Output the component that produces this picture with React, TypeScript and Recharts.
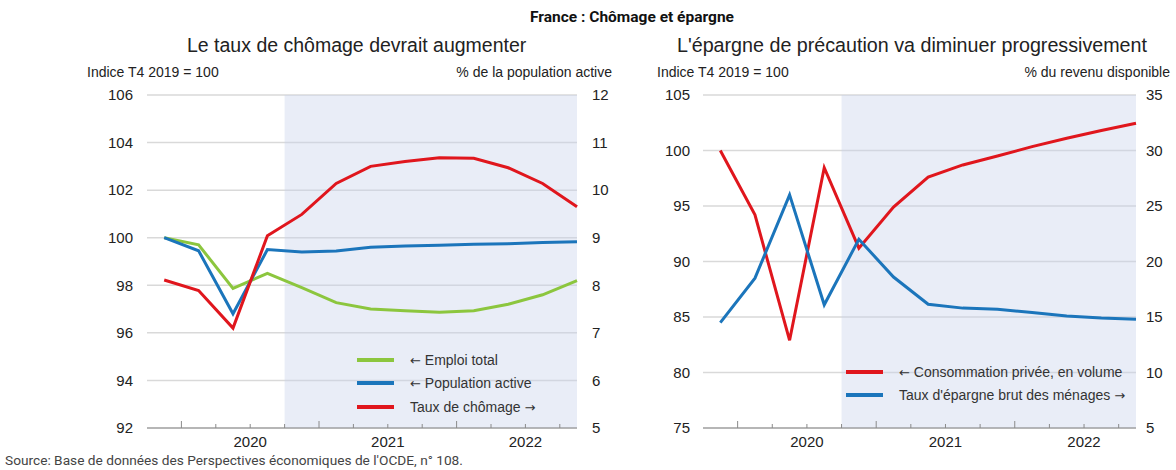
import React from 'react';
import { LineChart, Line, XAxis, YAxis, CartesianGrid, ReferenceArea } from 'recharts';

// trimestres T4 2019 -> T4 2022, projections à partir de T4 2020
const quarters = [
  'T4 2019', 'T1 2020', 'T2 2020', 'T3 2020', 'T4 2020', 'T1 2021', 'T2 2021',
  'T3 2021', 'T4 2021', 'T1 2022', 'T2 2022', 'T3 2022', 'T4 2022',
];
const firstProjection = 'T4 2020';

// graphique de gauche
const emploiTotal = [100, 99.7, 97.87, 98.5, 97.9, 97.27, 97.0, 96.93, 96.87, 96.93, 97.2, 97.6, 98.2];
const populationActive = [100, 99.45, 96.8, 99.5, 99.4, 99.44, 99.6, 99.65, 99.68, 99.72, 99.75, 99.8, 99.83];
const tauxChomage = [8.11, 7.89, 7.1, 9.04, 9.49, 10.14, 10.5, 10.6, 10.68, 10.67, 10.47, 10.14, 9.65];
const leftTicksA = [92, 94, 96, 98, 100, 102, 104, 106];
const leftTicksB = [5, 6, 7, 8, 9, 10, 11, 12];

// graphique de droite
const consommation = [100, 94.2, 82.9, 98.45, 91.2, 94.9, 97.6, 98.7, 99.5, 100.35, 101.1, 101.8, 102.45];
const tauxEpargne = [14.5, 18.5, 26.0, 16.1, 22.0, 18.6, 16.15, 15.8, 15.7, 15.4, 15.1, 14.9, 14.8];
const rightTicksA = [75, 80, 85, 90, 95, 100, 105];
const rightTicksB = [5, 10, 15, 20, 25, 30, 35];

const RED = '#e0161d';
const BLUE = '#1b75bb';
const GREEN = '#8cc63e';
const SHADE = '#c9d1ea';
const FONT = "'Liberation Sans', Arial, sans-serif";
const NARROW = "'Liberation Sans Narrow', 'Roboto', sans-serif";

const data = quarters.map((q, i) => ({
  t: i,
  q,
  emploi: emploiTotal[i],
  population: populationActive[i],
  chomage: tauxChomage[i],
  conso: consommation[i],
  epargne: tauxEpargne[i],
}));

// limites entre trimestres
const xTicks = quarters.slice(1).map((_, i) => i + 0.5);
const shadeStart = quarters.indexOf(firstProjection) - 0.5;
const lastIdx = quarters.length - 1;

const QuarterTick = (props: any) => {
  const { x, y, payload } = props;
  const next = quarters[payload.value + 0.5] || '';
  const isYear = next.startsWith('T1');
  const midYear = next.startsWith('T3');
  return (
    <g>
      <line x1={x} x2={x} y1={y} y2={y - (isYear ? 7 : 4)} stroke="#8a8a8a" strokeWidth={1} />
      {midYear && (
        <text x={x} y={y + 19} textAnchor="middle" fontSize={15} fill="#222" fontFamily={FONT}>
          {next.slice(3)}
        </text>
      )}
    </g>
  );
};

type Item = { label: string; color: string };

// les flèches en DejaVu, plus lisibles
const withArrows = (s: string) =>
  s.split(/([←→])/).map((part, i) =>
    part === '←' || part === '→' ? (
      <span key={i} style={{ fontFamily: "'DejaVu Sans', sans-serif", fontSize: 13 }}>{part}</span>
    ) : (
      <span key={i}>{part}</span>
    ),
  );

function LegendBox({ items, left, top }: { items: Item[]; left: number; top: number }) {
  return (
    <div style={{ position: 'absolute', left, top, fontFamily: FONT, fontSize: 14, color: '#333', whiteSpace: 'nowrap' }}>
      {items.map((it) => (
        <div key={it.label} style={{ display: 'flex', alignItems: 'center', height: 23.5 }}>
          <div style={{ width: 37, height: 4, background: it.color, marginRight: 16 }} />
          <span>{withArrows(it.label)}</span>
        </div>
      ))}
    </div>
  );
}

const tickStyle = { fontSize: 15, fill: '#222', fontFamily: FONT };

function LeftChart() {
  return (
    <LineChart width={620} height={470} data={data} margin={{ top: 95, right: 3, bottom: 12, left: 87 }}>
      <CartesianGrid vertical={false} yAxisId="a" stroke="#d9d9d9" strokeWidth={1.5} />
      <ReferenceArea yAxisId="a" x1={shadeStart} x2={lastIdx} fill={SHADE} fillOpacity={0.4} stroke="none" ifOverflow="hidden" />
      <XAxis
        dataKey="t"
        type="number"
        domain={[-0.5, lastIdx]}
        ticks={xTicks}
        interval={0}
        tickSize={0}
        tickMargin={0}
        tickLine={false}
        tick={QuarterTick}
        stroke="#8a8a8a"
        height={30}
      />
      <YAxis yAxisId="a" domain={[92, 106]} ticks={leftTicksA} axisLine={false} tickLine={false} tickMargin={8} width={60} tick={tickStyle} interval={0} />
      <YAxis yAxisId="b" orientation="right" domain={[5, 12]} ticks={leftTicksB} axisLine={false} tickLine={false} tickMargin={9} width={40} tick={tickStyle} interval={0} />
      <Line yAxisId="a" dataKey="emploi" stroke={GREEN} strokeWidth={3} dot={false} isAnimationActive={false} />
      <Line yAxisId="a" dataKey="population" stroke={BLUE} strokeWidth={3} dot={false} isAnimationActive={false} />
      <Line yAxisId="b" dataKey="chomage" stroke={RED} strokeWidth={3} dot={false} isAnimationActive={false} />
    </LineChart>
  );
}

function RightChart() {
  return (
    <LineChart width={576} height={470} data={data} margin={{ top: 95, right: 0, bottom: 12, left: 43 }}>
      <CartesianGrid vertical={false} yAxisId="a" stroke="#d9d9d9" strokeWidth={1.5} />
      <ReferenceArea yAxisId="a" x1={shadeStart} x2={lastIdx} fill={SHADE} fillOpacity={0.4} stroke="none" ifOverflow="hidden" />
      <XAxis
        dataKey="t"
        type="number"
        domain={[-0.5, lastIdx]}
        ticks={xTicks}
        interval={0}
        tickSize={0}
        tickMargin={0}
        tickLine={false}
        tick={QuarterTick}
        stroke="#8a8a8a"
        height={30}
      />
      <YAxis yAxisId="a" domain={[75, 105]} ticks={rightTicksA} axisLine={false} tickLine={false} tickMargin={7} width={60} tick={tickStyle} interval={0} />
      <YAxis yAxisId="b" orientation="right" domain={[5, 35]} ticks={rightTicksB} axisLine={false} tickLine={false} tickMargin={4} width={40} tick={tickStyle} interval={0} />
      <Line yAxisId="a" dataKey="conso" stroke={RED} strokeWidth={3} dot={false} isAnimationActive={false} />
      <Line yAxisId="b" dataKey="epargne" stroke={BLUE} strokeWidth={3} dot={false} isAnimationActive={false} />
    </LineChart>
  );
}

const abs = (left: number, top: number, extra: React.CSSProperties = {}): React.CSSProperties => ({
  position: 'absolute',
  left,
  top,
  whiteSpace: 'nowrap',
  fontFamily: FONT,
  color: '#222',
  ...extra,
});

export default function App() {
  return (
    <div style={{ position: 'absolute', left: 0, top: 0, width: 1176, height: 470, background: '#fff', overflow: 'hidden' }}>
      <div style={abs(0, 0)}>
        <LeftChart />
      </div>
      <div style={abs(600, 0)}>
        <RightChart />
      </div>
      <LegendBox
        left={357}
        top={348}
        items={[
          { label: '← Emploi total', color: GREEN },
          { label: '← Population active', color: BLUE },
          { label: 'Taux de chômage →', color: RED },
        ]}
      />
      <LegendBox
        left={846}
        top={360}
        items={[
          { label: '← Consommation privée, en volume', color: RED },
          { label: "Taux d'épargne brut des ménages →", color: BLUE },
        ]}
      />
      <div style={abs(0, 8, { width: 1176, textAlign: 'center', paddingLeft: 88, boxSizing: 'border-box', fontFamily: NARROW, fontWeight: 700, fontSize: 15.5, color: '#111' })}>
        France : Chômage et épargne
      </div>
      <div style={abs(187, 34, { fontSize: 19.5 })}>Le taux de chômage devrait augmenter</div>
      <div style={abs(677, 34, { fontSize: 19.7 })}>L'épargne de précaution va diminuer progressivement</div>
      <div style={abs(87, 64, { fontSize: 14 })}>Indice T4 2019 = 100</div>
      <div style={abs(432, 64, { fontSize: 14, width: 180, textAlign: 'right' })}>% de la population active</div>
      <div style={abs(657, 64, { fontSize: 14 })}>Indice T4 2019 = 100</div>
      <div style={abs(990, 64, { fontSize: 14, width: 180, textAlign: 'right' })}>% du revenu disponible</div>
      <div style={abs(5, 452, { fontSize: 13.7, fontFamily: NARROW, color: '#444' })}>
        Source: Base de données des Perspectives économiques de l'OCDE, n° 108.
      </div>
    </div>
  );
}
